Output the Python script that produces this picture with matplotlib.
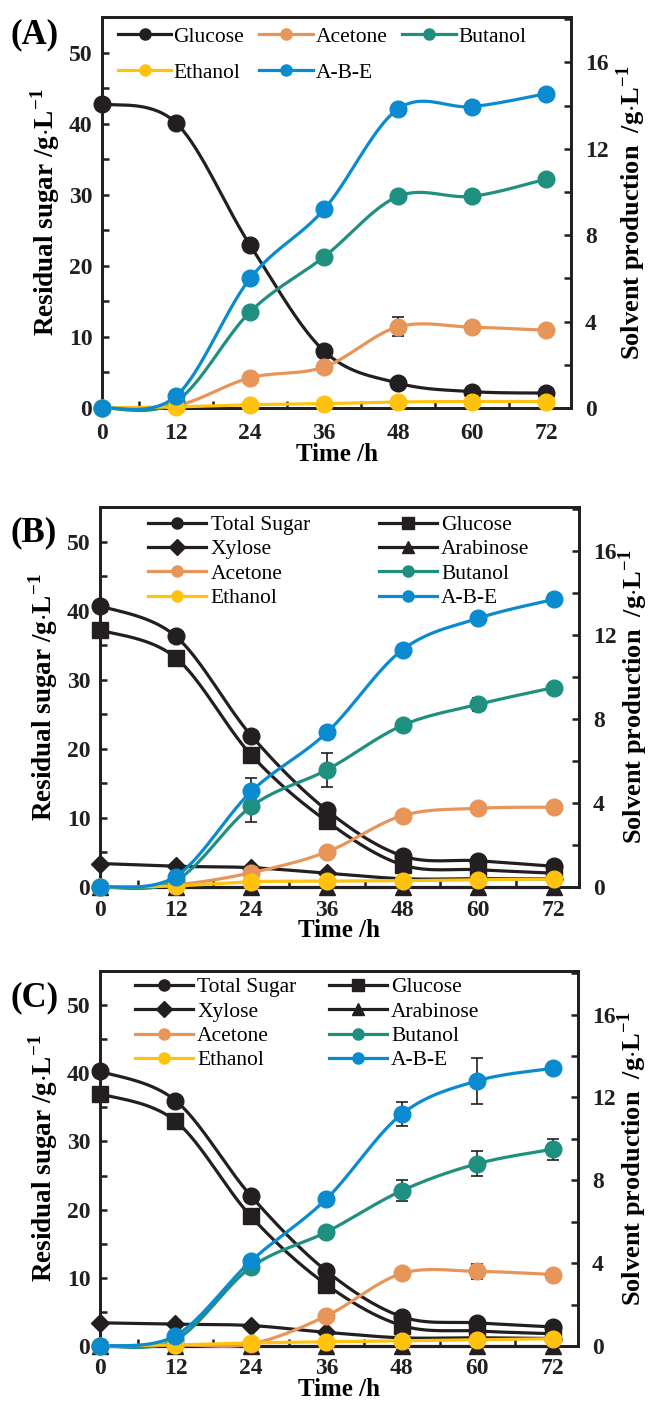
import matplotlib
matplotlib.use("Agg")
import matplotlib.pyplot as plt
from matplotlib.ticker import MultipleLocator
import numpy as np

plt.rcParams['font.family'] = ['Liberation Serif', 'DejaVu Serif']
plt.rcParams['mathtext.fontset'] = 'custom'
plt.rcParams['mathtext.rm'] = 'Liberation Serif'
plt.rcParams['mathtext.bf'] = 'Liberation Serif:bold'

# sampling times (h)
time_h = [0, 12, 24, 36, 48, 60, 72]

# ---- panel A ----
a_glucose = [42.8, 40.1, 22.9, 8.0, 3.5, 2.3, 2.1]
a_acetone = [0.0, 0.1, 1.4, 1.9, 3.76, 3.74, 3.6]
a_butanol = [0.0, 0.3, 4.45, 7.0, 9.8, 9.8, 10.6]
a_ethanol = [0.0, 0.05, 0.15, 0.2, 0.28, 0.3, 0.3]
a_abe = [0.0, 0.55, 6.0, 9.2, 13.85, 13.95, 14.55]
a_acetone_err = [0, 0, 0.2, 0, 0.45, 0, 0]

# ---- panel B ----
b_total = [40.7, 36.3, 21.9, 11.1, 4.5, 3.8, 3.0]
b_glucose = [37.2, 33.2, 19.1, 9.5, 3.2, 2.5, 2.0]
b_xylose = [3.4, 3.0, 2.8, 2.0, 1.2, 1.2, 1.2]
b_arabinose = [0, 0, 0, 0, 0, 0, 0]
b_acetone = [0.0, 0.1, 0.68, 1.67, 3.4, 3.75, 3.8]
b_butanol = [0.0, 0.3, 3.84, 5.58, 7.7, 8.7, 9.5]
b_ethanol = [0.0, 0.05, 0.25, 0.28, 0.3, 0.35, 0.38]
b_abe = [0.0, 0.5, 4.55, 7.36, 11.3, 12.8, 13.7]
b_butanol_err = [0, 0, 0.75, 0.8, 0, 0.3, 0]
b_abe_err = [0, 0, 0.65, 0, 0, 0, 0]

# ---- panel C ----
c_total = [40.3, 36.0, 22.0, 11.0, 4.3, 3.4, 2.8]
c_glucose = [37.0, 33.0, 19.0, 9.0, 3.0, 2.2, 1.8]
c_xylose = [3.4, 3.2, 3.0, 2.0, 1.2, 1.2, 1.1]
c_arabinose = [0, 0, 0, 0, 0, 0, 0]
c_acetone = [0.0, 0.05, 0.1, 1.45, 3.5, 3.6, 3.45]
c_butanol = [0.0, 0.3, 3.8, 5.5, 7.5, 8.8, 9.5]
c_ethanol = [0.0, 0.05, 0.15, 0.2, 0.25, 0.3, 0.35]
c_abe = [0.0, 0.5, 4.1, 7.1, 11.2, 12.8, 13.4]
c_abe_err = [0, 0, 0, 0, 0.6, 1.1, 0]
c_butanol_err = [0, 0, 0, 0, 0.5, 0.6, 0.5]
c_acetone_err = [0, 0, 0, 0, 0, 0.35, 0]

BLACK = '#231f20'
ORANGE = '#e8955a'
TEAL = '#1f8f80'
YELLOW = '#ffc20e'
BLUE = '#0a8bd0'

MS = {'o': 12, 's': 11, 'D': 9.5, '^': 11}


def smooth(x, y, n=40):
    # excel style smoothed line (catmull-rom bezier through the points)
    x = np.asarray(x, float)
    y = np.asarray(y, float)
    px = np.concatenate([[x[0]], x, [x[-1]]])
    py = np.concatenate([[y[0]], y, [y[-1]]])
    xs, ys = [], []
    t = np.linspace(0, 1, n)
    for i in range(len(x) - 1):
        p0 = np.array([px[i], py[i]])
        p1 = np.array([px[i + 1], py[i + 1]])
        p2 = np.array([px[i + 2], py[i + 2]])
        p3 = np.array([px[i + 3], py[i + 3]])
        c1 = p1 + (p2 - p0) / 6
        c2 = p2 - (p3 - p1) / 6
        b = ((1 - t) ** 3)[:, None] * p1 + (3 * (1 - t) ** 2 * t)[:, None] * c1 \
            + (3 * (1 - t) * t ** 2)[:, None] * c2 + (t ** 3)[:, None] * p2
        xs.append(b[:, 0])
        ys.append(b[:, 1])
    return np.concatenate(xs), np.concatenate(ys)


def series(ax, y, color, marker, label, err=None):
    sx, sy = smooth(time_h, y)
    ax.plot(sx, sy, color=color, lw=2.3, clip_on=False, zorder=3)
    if err is not None:
        ax.errorbar(time_h, y, yerr=err, fmt='none', ecolor=BLACK,
                    elinewidth=1.2, capsize=4, capthick=1.2, clip_on=False, zorder=3)
    ax.plot(time_h, y, ls='none', marker=marker, ms=MS[marker], color=color,
            clip_on=False, zorder=4)
    # legend proxy
    h, = ax.plot([], [], color=color, lw=2.3, marker=marker, ms=8)
    h.set_label(label)
    return h


def style_axes(ax, ax2, rpad, xpad):
    ax.set_xlim(0, 76)
    ax.set_ylim(0, 55)
    ax2.set_ylim(0, 18.1)
    ax.xaxis.set_minor_locator(MultipleLocator(6))
    ax.yaxis.set_major_locator(MultipleLocator(10))
    ax.yaxis.set_minor_locator(MultipleLocator(5))
    ax2.yaxis.set_major_locator(MultipleLocator(4))
    ax2.yaxis.set_minor_locator(MultipleLocator(2))
    ax.set_xticks([0, 12, 24, 36, 48, 60, 72])
    for a in (ax, ax2):
        for s in a.spines.values():
            s.set_linewidth(2)
            s.set_color(BLACK)
        a.tick_params(which='both', direction='in', length=5, width=1.8,
                      labelsize=17, colors=BLACK)
    ax.tick_params(axis='y', which='both', right=False, pad=7)
    ax.tick_params(axis='x', which='both', top=False, pad=xpad)
    ax2.tick_params(axis='y', which='both', pad=10)
    for lab in ax.get_xticklabels() + ax.get_yticklabels() + ax2.get_yticklabels():
        lab.set_fontweight('bold')
    ax.set_xlabel('Time /h', fontsize=18, fontweight='bold', labelpad=-1)
    ax.set_ylabel(r'Residual sugar /g$\cdot$L$^{\mathbf{-1}}$', fontsize=19.5,
                  fontweight='bold', labelpad=5)
    ax2.set_ylabel(r'Solvent production  /g$\cdot$L$^{\mathbf{-1}}$', fontsize=19,
                   fontweight='bold', labelpad=rpad)


W, H = 652, 1404
fig = plt.figure(figsize=(W / 100, H / 100), dpi=100)

# ---------- (A) ----------
axA = fig.add_axes([102 / W, (H - 408) / H, 469 / W, 391 / H])
axA2 = axA.twinx()
hg = series(axA, a_glucose, BLACK, 'o', 'Glucose')
hac = series(axA2, a_acetone, ORANGE, 'o', 'Acetone', a_acetone_err)
hbu = series(axA2, a_butanol, TEAL, 'o', 'Butanol')
het = series(axA2, a_ethanol, YELLOW, 'o', 'Ethanol')
hab = series(axA2, a_abe, BLUE, 'o', 'A-B-E')
style_axes(axA, axA2, 4, 11)
axA2.legend(handles=[hg, het, hac, hab, hbu], ncol=3, frameon=False,
            loc='upper left', bbox_to_anchor=(-0.008, 1.025), fontsize=15.5,
            handlelength=2.5, handletextpad=0.1, columnspacing=0.7,
            labelspacing=0.75)
fig.text(10 / W, 1 - 35 / H, '(A)', fontsize=25, fontweight='bold', va='center')

# ---------- (B) and (C) ----------
panels = [
    ('(B)', [100 / W, (H - 887) / H, 479 / W, 380 / H], 533, 0.06, 1.03, 3.2,
     b_total, b_glucose, b_xylose, b_arabinose,
     b_acetone, b_butanol, b_ethanol, b_abe,
     None, b_butanol_err, b_abe_err),
    ('(C)', [100 / W, (H - 1346) / H, 478 / W, 375 / H], 998, 0.032, 1.035, 1.5,
     c_total, c_glucose, c_xylose, c_arabinose,
     c_acetone, c_butanol, c_ethanol, c_abe,
     c_acetone_err, c_butanol_err, c_abe_err),
]

for (tag, rect, ty, lx, ly, csp, tot, glu, xyl, ara, ace, but, eth, abe,
     ace_err, but_err, abe_err) in panels:
    ax = fig.add_axes(rect)
    ax2 = ax.twinx()
    h1 = series(ax, tot, BLACK, 'o', 'Total Sugar')
    h2 = series(ax, glu, BLACK, 's', 'Glucose')
    h3 = series(ax, xyl, BLACK, 'D', 'Xylose')
    h4 = series(ax, ara, BLACK, '^', 'Arabinose')
    h5 = series(ax2, ace, ORANGE, 'o', 'Acetone', ace_err)
    h6 = series(ax2, but, TEAL, 'o', 'Butanol', but_err)
    h7 = series(ax2, eth, YELLOW, 'o', 'Ethanol')
    h8 = series(ax2, abe, BLUE, 'o', 'A-B-E', abe_err)
    style_axes(ax, ax2, 0, 9)
    ax2.legend(handles=[h1, h3, h5, h7, h2, h4, h6, h8], ncol=2, frameon=False,
               loc='upper left', bbox_to_anchor=(lx, ly), fontsize=15.5,
               handlelength=2.7, handletextpad=0.2, columnspacing=csp,
               labelspacing=0.2)
    fig.text(10 / W, 1 - ty / H, tag, fontsize=25, fontweight='bold', va='center')

fig.savefig('out.png', dpi=100)
